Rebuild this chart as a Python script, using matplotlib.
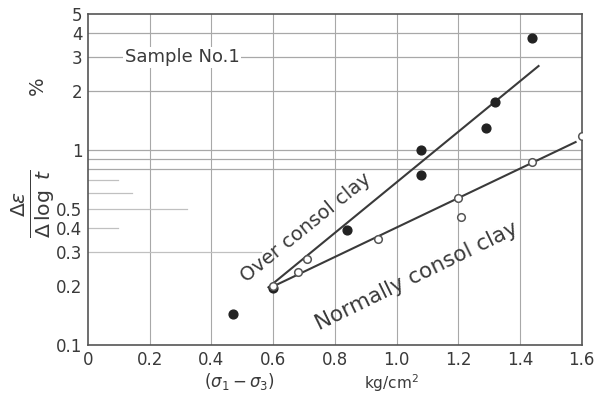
import matplotlib.pyplot as plt
import numpy as np

# over-consolidated clay (filled points)
oc_stress = [0.47, 0.60, 0.84, 1.08, 1.08, 1.29, 1.32, 1.44]
oc_rate = [0.145, 0.196, 0.39, 0.745, 1.0, 1.30, 1.77, 3.75]
# normally consolidated clay (open points)
nc_stress = [0.60, 0.68, 0.71, 0.94, 1.20, 1.21, 1.44, 1.60]
nc_rate = [0.20, 0.237, 0.278, 0.35, 0.567, 0.453, 0.87, 1.18]

# fitted lines, end points
oc_line_x = [0.585, 1.46]
oc_line_y = [0.198, 2.7]
nc_line_x = [0.60, 1.58]
nc_line_y = [0.20, 1.10]

x_ticks = [0, 0.2, 0.4, 0.6, 0.8, 1.0, 1.2, 1.4, 1.6]
x_labels = ["0", "0.2", "0.4", "0.6", "0.8", "1.0", "1.2", "1.4", "1.6"]
y_ticks = [0.1, 0.2, 0.3, 0.4, 0.5, 1, 2, 3, 4, 5]
y_labels = ["0.1", "0.2", "0.3", "0.4", "0.5", "1", "2", "3", "4", "5"]

ink = "#3a3a3a"
grid = "#a8a8a8"

fig = plt.figure(figsize=(6.06, 4.07), dpi=100)
ax = fig.add_axes([0.145, 0.152, 0.815, 0.814])
ax.set_yscale("log")
ax.set_xlim(0, 1.6)
ax.set_ylim(0.1, 5)

# grid, roughly as in the scanned sheet
for xv in x_ticks[1:-1]:
    ax.axvline(xv, color=grid, lw=0.8, zorder=0)
for yv in [0.8, 0.9, 1, 2, 3, 4]:
    ax.axhline(yv, color=grid, lw=0.9, zorder=0)
for yv, frac in [(0.3, 0.35), (0.4, 0.06), (0.5, 0.2), (0.6, 0.09), (0.7, 0.06)]:
    ax.axhline(yv, xmax=frac, color="#c0c0c0", lw=0.9, zorder=0)

ax.plot(oc_line_x, oc_line_y, color=ink, lw=1.5, zorder=2)
ax.plot(nc_line_x, nc_line_y, color=ink, lw=1.5, zorder=2)
ax.scatter(oc_stress, oc_rate, s=40, color="#222222", zorder=3)
ax.scatter(nc_stress, nc_rate, s=30, facecolor="white", edgecolor="#555555",
           lw=1.1, zorder=3)

ax.set_xticks(x_ticks)
ax.set_xticklabels(x_labels)
ax.set_yticks(y_ticks)
ax.set_yticklabels(y_labels)
ax.minorticks_off()
ax.tick_params(length=0, labelsize=12, colors=ink, pad=4)
for sp in ax.spines.values():
    sp.set_color("#555555")
    sp.set_linewidth(1.2)

ax.text(0.12, 3.0, "Sample No.1", fontsize=13, color=ink, va="center",
        bbox=dict(facecolor="white", edgecolor="none", pad=1))
ax.text(0.705, 0.40, "Over consol clay", fontsize=14, color=ink,
        rotation=39, ha="center", va="center", rotation_mode="anchor")
ax.text(1.065, 0.225, "Normally consol clay", fontsize=15.5, color=ink,
        rotation=26, ha="center", va="center", rotation_mode="anchor")

fig.text(0.055, 0.50, r"$\frac{\Delta\varepsilon}{\Delta\,\log\ t}$", fontsize=21,
         rotation=90, ha="center", va="center", color=ink)
fig.text(0.062, 0.79, "%", fontsize=14, rotation=90, ha="center", va="center",
         color=ink)
fig.text(0.395, 0.063, r"$(\sigma_1 - \sigma_3)$", fontsize=12, ha="center",
         va="center", color=ink)
fig.text(0.645, 0.058, r"kg/cm$^2$", fontsize=11, ha="center", va="center",
         color=ink)

fig.savefig("out.png", dpi=100, facecolor="white")
